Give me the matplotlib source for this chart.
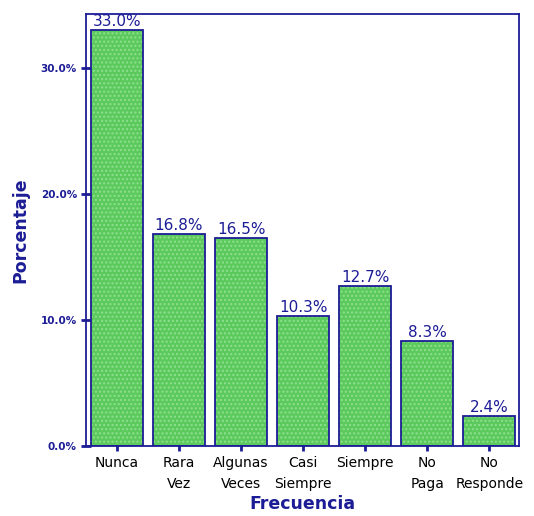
import numpy as np
import matplotlib.pyplot as plt

categorias = ['Nunca', 'Rara\nVez', 'Algunas\nVeces', 'Casi\nSiempre', 'Siempre', 'No\nPaga', 'No\nResponde']
porcentajes = [33.0, 16.8, 16.5, 10.3, 12.7, 8.3, 2.4]
yticks = [0, 10, 20, 30]

azul = '#1c1c96'
verde = '#5cc95c'

fig = plt.figure(figsize=(5.34, 5.16), dpi=100)
ax = fig.add_axes([86/534, 70/516, 433/534, 432/516])

x = np.arange(len(categorias))
# relleno con textura de puntos
ax.bar(x, porcentajes, width=0.84, color=verde, edgecolor='#8fe08f', hatch='....', linewidth=0, zorder=2)
ax.bar(x, porcentajes, width=0.84, fill=False, edgecolor=azul, linewidth=1.3, zorder=3)

for xi, v in zip(x, porcentajes):
    ax.text(xi, v + 0.1, f'{v:.1f}%', ha='center', va='bottom', color=azul, fontsize=11, zorder=4)

ax.set_xlim(-0.5, 6.48)
ax.set_ylim(0, 34.3)
ax.set_xticks(x)
ax.set_xticklabels(categorias, fontsize=10, color='black', va='top', linespacing=1.6)
ax.set_yticks(yticks)
ax.set_yticklabels([f'{t:.1f}%' for t in yticks], fontsize=7.5, color=azul, fontweight='bold')
ax.tick_params(axis='both', direction='inout', length=7, width=2, color=azul)
ax.tick_params(axis='x', pad=4)
ax.tick_params(axis='y', pad=3)
for s in ax.spines.values():
    s.set_color(azul)
    s.set_linewidth(1.3)

ax.set_xlabel('Frecuencia', color=azul, fontsize=12.5, fontweight='bold', labelpad=3)
ax.set_ylabel('Porcentaje', color=azul, fontsize=12.5, fontweight='bold', labelpad=8)

fig.savefig('out.png', dpi=100)
